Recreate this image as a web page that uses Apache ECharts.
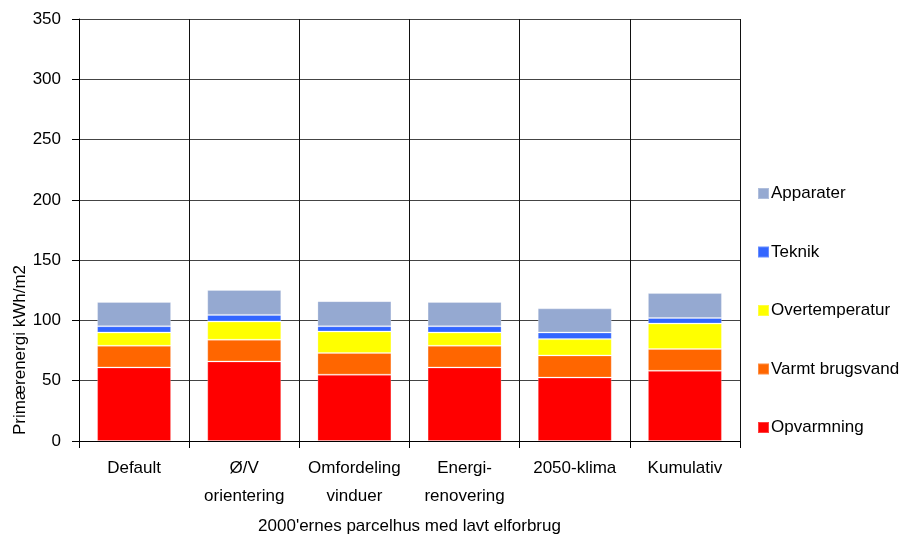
<!DOCTYPE html>
<html>
<head>
<meta charset="utf-8">
<script src="https://cdn.jsdelivr.net/npm/echarts@6/dist/echarts.min.js"></script>
<style>html,body{margin:0;padding:0;background:#fff;}#c{width:905px;height:540px;}</style>
</head>
<body>
<div id="c"></div>
<script>
const categories = ['Default', 'Ø/V\norientering', 'Omfordeling\nvinduer', 'Energi-\nrenovering', '2050-klima', 'Kumulativ'];
const opvarmning = [61, 66, 55, 61, 52.6, 58.2];
const varmtBrugsvand = [18, 18, 18, 18, 18.4, 18.1];
const overtemperatur = [11, 15.1, 17.8, 11, 13.5, 21.1];
const teknik = [5.2, 5.5, 4.4, 5.2, 5.5, 4.6];
const apparater = [20.1, 20.7, 20.8, 20.1, 20, 20.7];
const yTicks = [0, 50, 100, 150, 200, 250, 300, 350];

const seriesDefs = [
  {name: 'Opvarmning', data: opvarmning, color: '#FF0000'},
  {name: 'Varmt brugsvand', data: varmtBrugsvand, color: '#FF6600'},
  {name: 'Overtemperatur', data: overtemperatur, color: '#FFFF00'},
  {name: 'Teknik', data: teknik, color: '#3366FF'},
  {name: 'Apparater', data: apparater, color: '#95A9D1'}
];

const font = '"Liberation Sans", Arial, sans-serif';
const fs = 17;
const chart = echarts.init(document.getElementById('c'), null, {renderer: 'canvas'});
chart.setOption({
  animation: false,
  backgroundColor: '#fff',
  grid: {left: 79, right: 165, top: 19, bottom: 97, containLabel: false},
  legend: {
    orient: 'vertical',
    left: 752,
    top: 180,
    itemWidth: 11,
    itemHeight: 11,
    itemGap: 41.5,
    icon: 'rect',
    data: ['Apparater', 'Teknik', 'Overtemperatur', 'Varmt brugsvand', 'Opvarmning'],
    textStyle: {fontFamily: font, fontSize: fs, color: '#000', lineHeight: 17, padding: [0, 0, 0, -3]}
  },
  graphic: [{
    type: 'text',
    x: 20,
    y: 350,
    rotation: Math.PI / 2,
    style: {text: 'Primærenergi kWh/m2', fontFamily: font, fontSize: fs, fill: '#000', align: 'center', verticalAlign: 'middle'}
  }],
  xAxis: {
    type: 'category',
    data: categories,
    boundaryGap: true,
    name: "2000'ernes parcelhus med lavt elforbrug",
    nameLocation: 'middle',
    nameGap: 77,
    nameTextStyle: {fontFamily: font, fontSize: fs, color: '#000'},
    axisLine: {show: true, lineStyle: {color: '#000', width: 1}},
    axisTick: {show: true, length: 7, lineStyle: {color: '#000'}},
    axisLabel: {fontFamily: font, fontSize: fs, color: '#000', margin: 13, lineHeight: 28, interval: 0},
    splitLine: {show: true, lineStyle: {color: '#111', width: 1}}
  },
  yAxis: {
    type: 'value',
    min: yTicks[0],
    max: yTicks[yTicks.length - 1],
    interval: 50,
    axisLine: {show: true, lineStyle: {color: '#000', width: 1}},
    axisTick: {show: true, length: 7, inside: false, lineStyle: {color: '#000'}},
    axisLabel: {fontFamily: font, fontSize: fs, color: '#000', margin: 18},
    splitLine: {show: true, lineStyle: {color: '#444', width: 1}}
  },
  series: seriesDefs.map(s => ({
    name: s.name,
    type: 'bar',
    stack: 'total',
    barWidth: 74,
    data: s.data,
    itemStyle: {color: s.color, borderColor: 'rgba(255,255,255,0.25)', borderWidth: 1}
  }))
});
</script>
</body>
</html>
